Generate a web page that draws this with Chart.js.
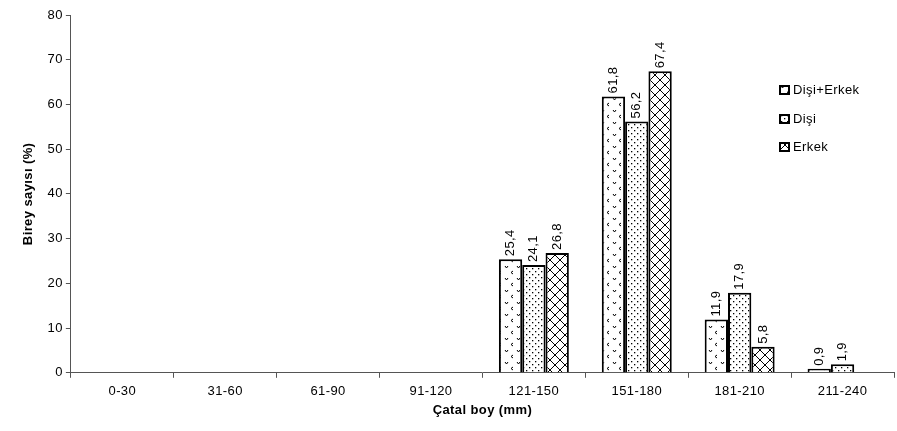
<!DOCTYPE html>
<html>
<head>
<meta charset="utf-8">
<script src="https://cdn.jsdelivr.net/npm/chart.js@4/dist/chart.umd.min.js"></script>
<style>
  html, body { margin: 0; padding: 0; background: #fff; }
  #wrap { width: 897px; height: 431px; }
</style>
</head>
<body>
<div id="wrap"><canvas id="chart"></canvas></div>
<script>
// veriler
const categories = ['0-30', '31-60', '61-90', '91-120', '121-150', '151-180', '181-210', '211-240'];
const disiErkek = [null, null, null, null, 25.4, 61.8, 11.9, 0.9];
const disi = [null, null, null, null, 24.1, 56.2, 17.9, 1.9];
const erkek = [null, null, null, null, 26.8, 67.4, 5.8, null];
const yTicks = [0, 10, 20, 30, 40, 50, 60, 70, 80];
const seriesNames = ['Dişi+Erkek', 'Dişi', 'Erkek'];

const FONT = "'Liberation Sans', Arial, sans-serif";

// desenler
function makePattern(kind) {
    const c = document.createElement('canvas');
    const g = c.getContext('2d');
    if (kind === 'v') {
        c.width = 12; c.height = 12;
        g.fillStyle = '#fff'; g.fillRect(0, 0, 12, 12);
        g.strokeStyle = '#000'; g.lineWidth = 1;
        g.beginPath();
        g.moveTo(1, 2); g.lineTo(2.5, 4); g.lineTo(4, 2);
        g.moveTo(9, 7); g.lineTo(7, 8.5); g.lineTo(9, 10);
        g.stroke();
    } else if (kind === 'dot') {
        c.width = 6; c.height = 6;
        g.fillStyle = '#fff'; g.fillRect(0, 0, 6, 6);
        g.fillStyle = '#000';
        g.fillRect(1, 1, 1.3, 1.3);
        g.fillRect(4, 4, 1.3, 1.3);
    } else {
        c.width = 10; c.height = 10;
        g.fillStyle = '#fff'; g.fillRect(0, 0, 10, 10);
        g.strokeStyle = '#000'; g.lineWidth = 1;
        g.beginPath();
        g.moveTo(0, 0); g.lineTo(10, 10);
        g.moveTo(10, 0); g.lineTo(0, 10);
        g.stroke();
    }
    return g.createPattern(c, 'repeat');
}

const patterns = [makePattern('v'), makePattern('dot'), makePattern('x')];

// harf aralığı (orijinaldeki geniş yazı)
const SPACING = '0.4px';
const spacingPlugin = {
    id: 'spacing',
    beforeInit(chart) { chart.ctx.letterSpacing = SPACING; },
    beforeUpdate(chart) { chart.ctx.letterSpacing = SPACING; },
    beforeDraw(chart) { chart.ctx.letterSpacing = SPACING; }
};

// bar üstü etiketler
const labelPlugin = {
    id: 'barLabels',
    afterDatasetsDraw(chart) {
        const ctx = chart.ctx;
        ctx.save();
        ctx.font = '13px ' + FONT;
        ctx.fillStyle = '#000';
        ctx.textAlign = 'left';
        ctx.textBaseline = 'middle';
        chart.data.datasets.forEach((ds, i) => {
            const meta = chart.getDatasetMeta(i);
            meta.data.forEach((bar, j) => {
                const v = ds.data[j];
                if (v === null || v === undefined) return;
                ctx.save();
                ctx.translate(bar.x, bar.y - 3);
                ctx.rotate(-Math.PI / 2);
                ctx.fillText(String(v).replace('.', ','), 0, 0);
                ctx.restore();
            });
        });
        ctx.restore();
    }
};

// sağdaki açıklama
const legendPlugin = {
    id: 'sideLegend',
    afterDraw(chart) {
        const ctx = chart.ctx;
        const ys = [90, 119, 147];
        ctx.save();
        ctx.font = '13px ' + FONT;
        ctx.textBaseline = 'middle';
        ctx.textAlign = 'left';
        chart.data.datasets.forEach((ds, i) => {
            const y = ys[i];
            ctx.fillStyle = ds.backgroundColor;
            ctx.fillRect(780, y - 4, 9, 8);
            ctx.strokeStyle = '#000';
            ctx.lineWidth = 2;
            ctx.strokeRect(780, y - 4, 9, 8);
            ctx.fillStyle = '#000';
            ctx.fillText(ds.label, 793, y);
        });
        ctx.restore();
    }
};

const ctx = document.getElementById('chart');
new Chart(ctx, {
    type: 'bar',
    data: {
        labels: categories,
        datasets: [disiErkek, disi, erkek].map((d, i) => ({
            label: seriesNames[i],
            data: d,
            backgroundColor: patterns[i],
            borderColor: '#000',
            borderWidth: 2,
            borderSkipped: 'bottom',
            categoryPercentage: 0.68,
            barPercentage: 1
        }))
    },
    options: {
        responsive: true,
        maintainAspectRatio: false,
        animation: false,
        layout: { padding: { top: 15, right: 3, left: 11, bottom: 13 } },
        plugins: {
            legend: { display: false },
            tooltip: { enabled: false }
        },
        scales: {
            x: {
                offset: true,
                grid: {
                    offset: true,
                    drawOnChartArea: false,
                    tickLength: 5,
                    color: '#555'
                },
                border: { color: '#555', width: 1 },
                ticks: {
                    color: '#000',
                    font: { family: FONT, size: 13 },
                    maxRotation: 0,
                    padding: 6
                },
                title: {
                    display: true,
                    text: 'Çatal boy (mm)',
                    color: '#000',
                    font: { family: FONT, size: 13, weight: 'bold' },
                    padding: { top: -3, bottom: 0 }
                }
            },
            y: {
                min: 0,
                max: 80,
                afterBuildTicks(axis) {
                    axis.ticks = yTicks.map(v => ({ value: v }));
                },
                grid: {
                    drawOnChartArea: false,
                    tickLength: 5,
                    color: '#555'
                },
                border: { color: '#555', width: 1 },
                ticks: {
                    color: '#000',
                    font: { family: FONT, size: 13 },
                    padding: 3
                },
                title: {
                    display: true,
                    text: 'Birey sayısı (%)',
                    color: '#000',
                    font: { family: FONT, size: 13, weight: 'bold' },
                    padding: { top: 10, bottom: 8 }
                }
            }
        }
    },
    plugins: [spacingPlugin, labelPlugin, legendPlugin]
});
</script>
</body>
</html>
